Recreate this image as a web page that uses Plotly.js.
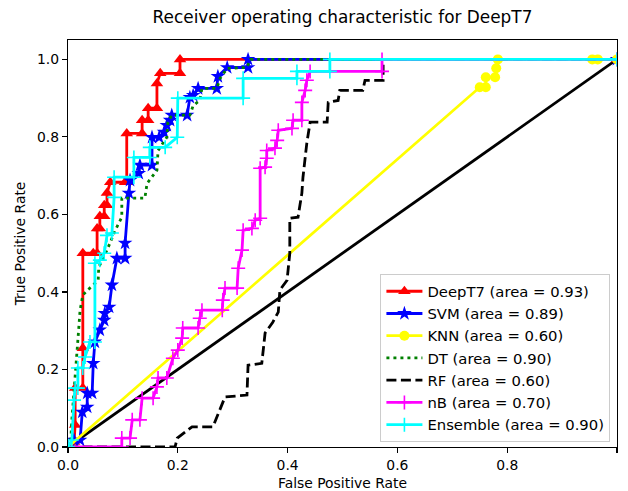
<!DOCTYPE html>
<html>
<head>
<meta charset="utf-8">
<script src="https://cdn.plot.ly/plotly-3.0.1.min.js"></script>
<style>html,body{margin:0;padding:0;background:#fff;} #chart{width:628px;height:491px;}</style>
</head>
<body>
<div id="chart"></div>
<script>
// ROC data (false positive rate / true positive rate)
const deepFpr = [0, 0.011, 0.013, 0.013, 0.027, 0.027, 0.027, 0.046, 0.053, 0.053, 0.058, 0.058, 0.066, 0.066, 0.071, 0.071, 0.077, 0.104, 0.107, 0.107, 0.135, 0.135, 0.146, 0.146, 0.162, 0.162, 0.168, 0.204, 0.204, 1.0];
const deepTpr = [0, 0.013, 0.057, 0.152, 0.152, 0.255, 0.5, 0.5, 0.5, 0.564, 0.564, 0.595, 0.595, 0.624, 0.624, 0.655, 0.683, 0.683, 0.683, 0.809, 0.809, 0.843, 0.843, 0.874, 0.874, 0.938, 0.964, 0.964, 1.0, 1.0];

const svmFpr = [0, 0.011, 0.022, 0.026, 0.035, 0.035, 0.044, 0.046, 0.049, 0.058, 0.066, 0.067, 0.075, 0.08, 0.089, 0.104, 0.104, 0.111, 0.113, 0.129, 0.131, 0.153, 0.153, 0.166, 0.175, 0.18, 0.186, 0.189, 0.217, 0.222, 0.228, 0.237, 0.271, 0.273, 0.29, 0.328, 0.328, 1.0];
const svmTpr = [0, 0.018, 0.018, 0.09, 0.103, 0.139, 0.139, 0.216, 0.271, 0.302, 0.327, 0.345, 0.361, 0.418, 0.487, 0.487, 0.526, 0.655, 0.688, 0.706, 0.727, 0.727, 0.799, 0.799, 0.812, 0.83, 0.843, 0.856, 0.856, 0.902, 0.907, 0.925, 0.925, 0.956, 0.979, 0.979, 1.0, 1.0];

const knnFpr = [0, 0.75, 0.761, 0.761, 0.778, 0.78, 0.783, 0.955, 0.965, 1.0];
const knnTpr = [0, 0.928, 0.928, 0.954, 0.954, 0.977, 1.0, 1.0, 1.0, 1.0];

const dtFpr = [0, 0.005, 0.007, 0.013, 0.018, 0.022, 0.027, 0.036, 0.055, 0.056, 0.067, 0.077, 0.086, 0.098, 0.098, 0.14, 0.144, 0.162, 0.164, 0.18, 0.182, 0.189, 0.222, 0.228, 0.24, 0.244, 0.271, 0.277, 0.29, 0.326, 0.332, 1.0];
const dtTpr = [0, 0.018, 0.07, 0.173, 0.276, 0.353, 0.392, 0.405, 0.43, 0.464, 0.495, 0.528, 0.559, 0.593, 0.642, 0.642, 0.68, 0.714, 0.765, 0.799, 0.838, 0.856, 0.856, 0.881, 0.894, 0.925, 0.925, 0.951, 0.977, 0.979, 1.0, 1.0];

const rfFpr = [0, 0.195, 0.199, 0.226, 0.264, 0.286, 0.326, 0.328, 0.353, 0.359, 0.373, 0.383, 0.386, 0.399, 0.404, 0.404, 0.419, 0.426, 0.428, 0.435, 0.441, 0.472, 0.474, 0.492, 0.495, 0.537, 0.541, 0.574, 0.574, 1.0];
const rfTpr = [0, 0, 0.023, 0.052, 0.052, 0.129, 0.134, 0.211, 0.216, 0.294, 0.322, 0.348, 0.405, 0.43, 0.5, 0.59, 0.593, 0.655, 0.696, 0.784, 0.838, 0.838, 0.889, 0.894, 0.92, 0.92, 0.946, 0.946, 1.0, 1.0];

const nbFpr = [0, 0.098, 0.098, 0.113, 0.117, 0.131, 0.135, 0.155, 0.162, 0.164, 0.18, 0.191, 0.2, 0.208, 0.209, 0.237, 0.24, 0.244, 0.281, 0.282, 0.286, 0.308, 0.31, 0.317, 0.319, 0.335, 0.341, 0.35, 0.35, 0.359, 0.362, 0.362, 0.377, 0.381, 0.383, 0.408, 0.41, 0.426, 0.426, 0.432, 0.435, 0.441, 0.572, 0.572, 1.0];
const nbTpr = [0, 0, 0.023, 0.023, 0.07, 0.07, 0.126, 0.126, 0.155, 0.178, 0.178, 0.229, 0.25, 0.281, 0.307, 0.307, 0.332, 0.353, 0.353, 0.379, 0.41, 0.41, 0.461, 0.508, 0.559, 0.564, 0.585, 0.59, 0.719, 0.722, 0.745, 0.765, 0.771, 0.791, 0.817, 0.822, 0.843, 0.843, 0.889, 0.92, 0.946, 0.969, 0.969, 1.0, 1.0];

const ensFpr = [0, 0.007, 0.011, 0.013, 0.018, 0.018, 0.027, 0.031, 0.04, 0.049, 0.049, 0.058, 0.066, 0.071, 0.08, 0.084, 0.084, 0.12, 0.12, 0.149, 0.149, 0.177, 0.199, 0.2, 0.319, 0.319, 0.417, 0.417, 0.477, 0.477, 1.0];
const ensTpr = [0, 0.018, 0.121, 0.152, 0.152, 0.204, 0.204, 0.232, 0.271, 0.271, 0.474, 0.482, 0.5, 0.546, 0.552, 0.644, 0.696, 0.696, 0.747, 0.747, 0.773, 0.773, 0.799, 0.9, 0.9, 0.951, 0.951, 0.969, 0.969, 1.0, 1.0];

const chanceX = [0, 1];
const chanceY = [0, 1];

const names = ["DeepT7 (area = 0.93)", "SVM (area = 0.89)", "KNN (area = 0.60)", "DT (area = 0.90)", "RF (area = 0.60)", "nB (area = 0.70)", "Ensemble (area = 0.90)"];
const xTicks = [0, 0.2, 0.4, 0.6, 0.8, 1.0];
const xTickText = ["0.0", "0.2", "0.4", "0.6", "0.8", "1.0"];
const yTicks = [0, 0.2, 0.4, 0.6, 0.8, 1.0];
const yTickText = ["0.0", "0.2", "0.4", "0.6", "0.8", "1.0"];

const LW = 2.8;
const traces = [
  {x: chanceX, y: chanceY, mode: 'lines', line: {color: '#000000', width: LW}, showlegend: false, hoverinfo: 'skip'},
  {x: deepFpr, y: deepTpr, name: names[0], mode: 'lines+markers', line: {color: '#ff0000', width: LW},
   marker: {symbol: 'triangle-up', size: 11, color: '#ff0000'}},
  {x: svmFpr, y: svmTpr, name: names[1], mode: 'lines+markers', line: {color: '#0000ff', width: LW},
   marker: {symbol: 'star', size: 11, color: '#0000ff'}},
  {x: knnFpr, y: knnTpr, name: names[2], mode: 'lines+markers', line: {color: '#ffff00', width: LW},
   marker: {symbol: 'circle', size: 10, color: '#ffff00'}},
  {x: dtFpr, y: dtTpr, name: names[3], mode: 'lines', line: {color: '#008000', width: LW, dash: '3px,4px'}},
  {x: rfFpr, y: rfTpr, name: names[4], mode: 'lines', line: {color: '#000000', width: LW, dash: '10px,4.5px'}},
  {x: nbFpr, y: nbTpr, name: names[5], mode: 'lines+markers', line: {color: '#ff00ff', width: LW},
   marker: {symbol: 'cross-thin', size: 10, color: '#ff00ff', line: {color: '#ff00ff', width: 1.6}}},
  {x: ensFpr, y: ensTpr, name: names[6], mode: 'lines+markers', line: {color: '#00ffff', width: LW},
   marker: {symbol: 'cross-thin', size: 10, color: '#00ffff', line: {color: '#00ffff', width: 1.6}}}
];

const axisCommon = {
  showgrid: false, zeroline: false, showline: true, mirror: true,
  linecolor: '#000000', linewidth: 1.1,
  ticks: 'outside', ticklen: 5, tickwidth: 1.1, tickcolor: '#000000',
  tickfont: {family: 'DejaVu Sans', size: 13.9, color: '#000000'}
};

const layout = {
  width: 628, height: 491,
  margin: {l: 68, r: 11, t: 40, b: 44},
  paper_bgcolor: '#ffffff', plot_bgcolor: '#ffffff',
  font: {family: 'DejaVu Sans', color: '#000000'},
  title: {text: 'Receiver operating characteristic for DeepT7', font: {family: 'DejaVu Sans', size: 16.9, color: '#000000'},
          x: 0.5, xref: 'paper', xanchor: 'center', y: 1, yref: 'container', yanchor: 'top', pad: {t: 11}},
  xaxis: Object.assign({}, axisCommon, {range: [0, 1], tickvals: xTicks, ticktext: xTickText,
          title: {text: 'False Positive Rate', font: {family: 'DejaVu Sans', size: 13.9, color: '#000000'}, standoff: 8}}),
  yaxis: Object.assign({}, axisCommon, {range: [0, 1.05], tickvals: yTicks, ticktext: yTickText,
          title: {text: 'True Positive Rate', font: {family: 'DejaVu Sans', size: 13.9, color: '#000000'}, standoff: 8}}),
  legend: {x: 0.988, y: 0.012, xanchor: 'right', yanchor: 'bottom', bgcolor: 'rgba(255,255,255,0.8)',
           bordercolor: '#cccccc', borderwidth: 1, font: {family: 'DejaVu Sans', size: 14.8, color: '#000000'},
           tracegroupgap: 0, itemwidth: 36}
};

Plotly.newPlot('chart', traces, layout, {staticPlot: true, displayModeBar: false});
</script>
</body>
</html>
